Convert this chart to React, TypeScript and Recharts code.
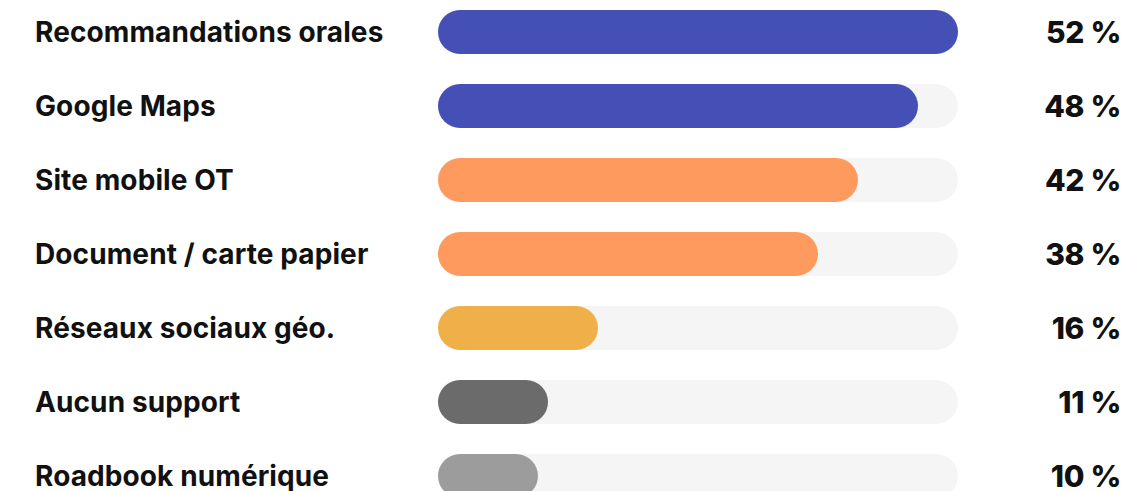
import { BarChart, Bar, XAxis, YAxis, Cell, LabelList } from 'recharts'

const categories = [
  'Recommandations orales',
  'Google Maps',
  'Site mobile OT',
  'Document / carte papier',
  'Réseaux sociaux géo.',
  'Aucun support',
  'Roadbook numérique',
]
const values = [52, 48, 42, 38, 16, 11, 10]
const colors = ['#4550B6', '#4550B6', '#FF9A5F', '#FF9A5F', '#EFB04A', '#6B6B6B', '#9C9C9C']

const data = categories.map((name, i) => ({ name, value: values[i] }))

const FONT = 'Inter, "Noto Sans", sans-serif'

const LeftTick = (props: any) => {
  const { y, payload } = props
  return (
    <text
      x={35}
      y={y}
      dy={10}
      textAnchor="start"
      fill="#111"
      fontFamily={FONT}
      fontWeight={700}
      fontSize={28}
      letterSpacing={0.1}
    >
      {payload.value}
    </text>
  )
}

const ValueLabel = (props: any) => {
  const { y, height, value } = props
  return (
    <text
      x={1121}
      y={y + height / 2}
      dy={11}
      textAnchor="end"
      fill="#111"
      fontFamily={FONT}
      fontWeight={800}
      fontSize={30}
      letterSpacing={-0.3}
    >
      {`${value} %`}
    </text>
  )
}

export default function App() {
  return (
    <div style={{ position: 'absolute', left: 0, top: -5, background: '#fff' }}>
      <BarChart
        width={1125}
        height={518}
        data={data}
        layout="vertical"
        margin={{ top: 0, right: 167, left: 0, bottom: 0 }}
        barSize={44}
      >
        <XAxis type="number" domain={[0, 52]} hide />
        <YAxis
          type="category"
          dataKey="name"
          width={438}
          axisLine={false}
          tickLine={false}
          tick={<LeftTick />}
          interval={0}
        />
        <Bar
          dataKey="value"
          radius={22}
          background={{ fill: '#F5F5F5', radius: 22 }}
          isAnimationActive={false}
        >
          {data.map((d, i) => (
            <Cell key={d.name} fill={colors[i]} />
          ))}
          <LabelList dataKey="value" content={<ValueLabel />} />
        </Bar>
      </BarChart>
    </div>
  )
}
